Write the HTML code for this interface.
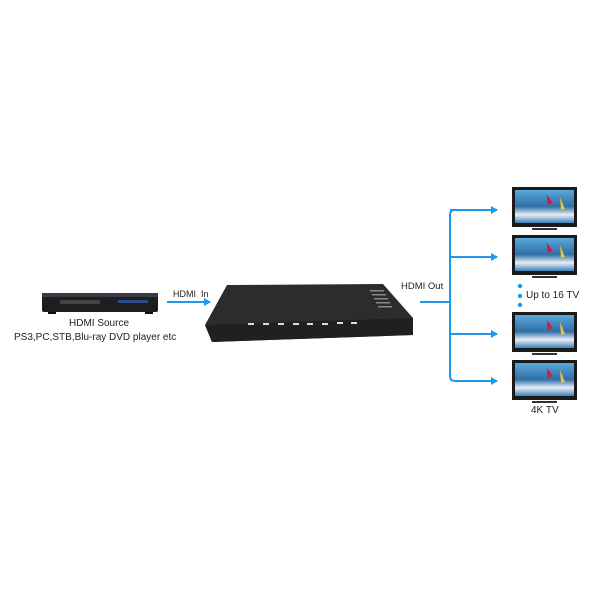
<!DOCTYPE html>
<html><head><style>
html,body{margin:0;padding:0;background:#fff;}
body{width:600px;height:600px;position:relative;overflow:hidden;font-family:"Liberation Sans",sans-serif;}
.t{position:absolute;font-size:10px;color:#222;white-space:nowrap;}
</style></head><body>
<svg width="600" height="600" style="position:absolute;left:0;top:0">
<defs>
<marker id="a" markerWidth="8" markerHeight="8" refX="6" refY="4" orient="auto" markerUnits="userSpaceOnUse"><path d="M0,0 L7,4 L0,8 Z" fill="#1a9ae8"/></marker>
<linearGradient id="sc" x1="0" y1="0" x2="0" y2="1"><stop offset="0" stop-color="#5aa8d8"/><stop offset="0.5" stop-color="#2f6fa8"/><stop offset="0.75" stop-color="#e8eef4"/><stop offset="1" stop-color="#3b80b8"/></linearGradient>
<g id="tv">
<rect x="0" y="0" width="65" height="40" fill="#1a1a1a"/>
<rect x="3" y="3" width="59" height="33" fill="url(#sc)"/>
<path d="M35,8 l6,8 l-6,2 z" fill="#d02040"/><path d="M48,10 l5,12 l-4,1 z" fill="#f0c030"/>
<rect x="20" y="41" width="25" height="2" fill="#333"/>
</g>
</defs>
<!-- DVD player -->
<rect x="42" y="293" width="116" height="19" rx="2" fill="#1e1e22"/>
<rect x="42" y="293" width="116" height="4" fill="#3a3a40"/>
<rect x="60" y="300" width="40" height="4" fill="#444"/>
<rect x="118" y="300" width="30" height="3" fill="#2a4a8a"/>
<rect x="48" y="312" width="8" height="2" fill="#111"/><rect x="145" y="312" width="8" height="2" fill="#111"/>
<!-- switch -->
<path d="M227,285 L383,284 L413,318 L413,335 L212,342 L205,325 Z" fill="#2a2c2e"/>
<path d="M205,325 L413,318 L413,335 L212,342 Z" fill="#1e2022"/>
<g fill="#ddd"><rect x="248" y="323" width="6" height="2"/><rect x="263" y="323" width="6" height="2"/><rect x="278" y="323" width="6" height="2"/><rect x="293" y="323" width="6" height="2"/><rect x="307" y="323" width="6" height="2"/><rect x="322" y="323" width="6" height="2"/><rect x="337" y="322" width="6" height="2"/><rect x="351" y="322" width="6" height="2"/></g>
<g fill="#888"><rect x="370" y="290" width="14" height="1.5"/><rect x="372" y="294" width="14" height="1.5"/><rect x="374" y="298" width="14" height="1.5"/><rect x="376" y="302" width="14" height="1.5"/><rect x="378" y="306" width="14" height="1.5"/></g>
<!-- lines -->
<g stroke="#1a9ae8" stroke-width="2" fill="none">
<line x1="167" y1="302" x2="210" y2="302" marker-end="url(#a)"/>
<path d="M420,302 H450"/>
<path d="M497,210 H455 Q450,210 450,215 V376 Q450,381 455,381 H497" marker-end="url(#a)"/>
<line x1="450" y1="210" x2="497" y2="210" marker-end="url(#a)"/>
<line x1="450" y1="257" x2="497" y2="257" marker-end="url(#a)"/>
<line x1="450" y1="334" x2="497" y2="334" marker-end="url(#a)"/>
</g>
<use href="#tv" x="512" y="187"/>
<use href="#tv" x="512" y="235"/>
<use href="#tv" x="512" y="312"/>
<use href="#tv" x="512" y="360"/>
<g fill="#1a9ae8"><circle cx="520" cy="286" r="2.2"/><circle cx="520" cy="296" r="2.2"/><circle cx="520" cy="305" r="2.2"/></g>
</svg>
<div class="t" style="left:173px;top:289px;font-size:9px">HDMI&nbsp; In</div>
<div class="t" style="left:401px;top:281px;font-size:9.5px">HDMI Out</div>
<div class="t" style="left:69px;top:318px">HDMI Source</div>
<div class="t" style="left:14px;top:332px">PS3,PC,STB,Blu-ray DVD player etc</div>
<div class="t" style="left:526px;top:290px">Up to 16 TV</div>
<div class="t" style="left:531px;top:405px">4K TV</div>
</body></html>
